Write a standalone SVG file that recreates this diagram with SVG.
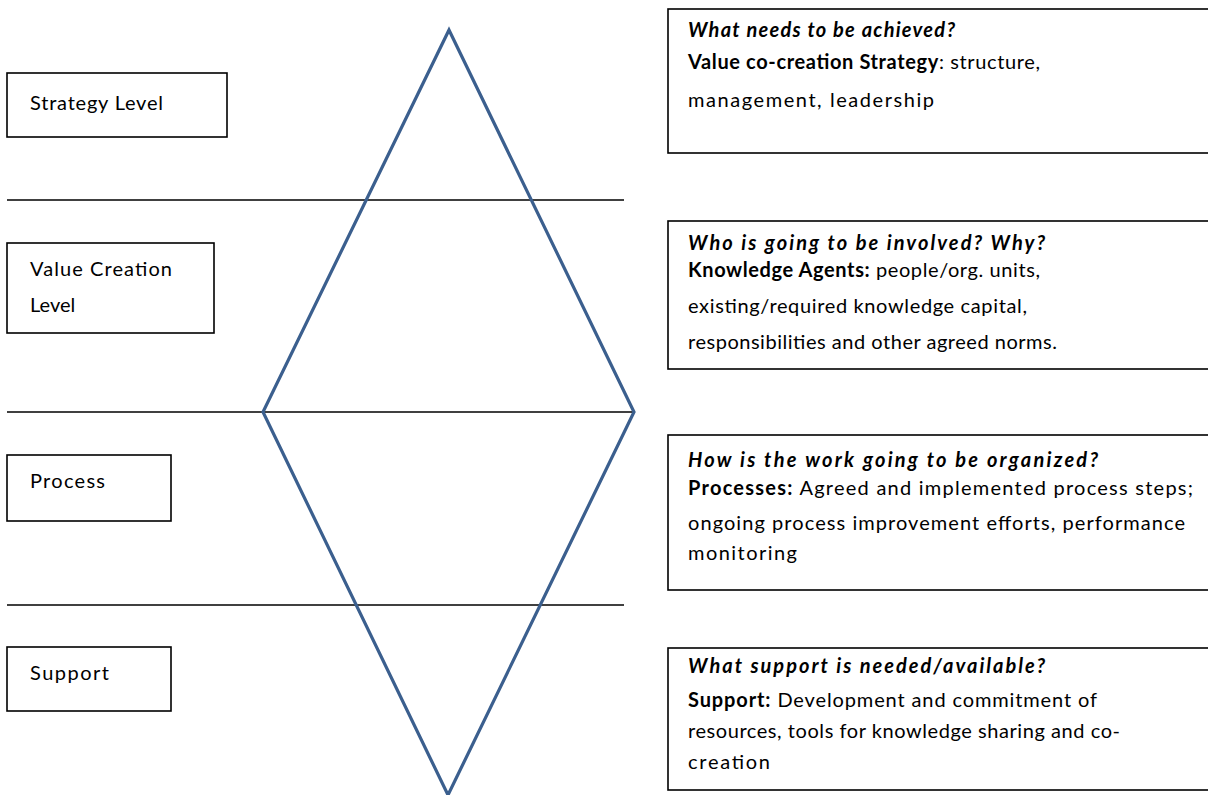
<svg xmlns="http://www.w3.org/2000/svg" width="1208" height="795" viewBox="0 0 1208 795">
<style>
.box{fill:#fff;stroke:#000;stroke-width:1.6}
.sep{stroke:#000;stroke-width:1.4}
.dia{fill:none;stroke:#3b5f8e;stroke-width:3.2;stroke-linejoin:miter}
text{font-family:Lato,"Open Sans","Liberation Sans",sans-serif;font-size:20px;fill:#000}
.lbl{font-size:20px}
.q{font-weight:bold;font-style:italic}
.b{font-weight:bold}
</style>
<rect width="1208" height="795" fill="#fff"/>
<g id="separators">
<line class="sep" x1="7" y1="200" x2="624" y2="200"/>
<line class="sep" x1="7" y1="412" x2="634" y2="412"/>
<line class="sep" x1="7" y1="605" x2="624" y2="605"/>
</g>
<g id="connectors">
<path class="dia" d="M449,30 L634,412 L448,795 L263,412 Z"/>
</g>
<g id="strategy-level">
<rect class="box" x="7" y="73" width="220" height="64"/>
<text class="lbl" x="30" y="110" textLength="133" lengthAdjust="spacing">Strategy Level</text>
</g>
<g id="value-creation-level">
<rect class="box" x="7" y="243" width="207" height="90"/>
<text class="lbl" x="30" y="276" textLength="142" lengthAdjust="spacing">Value Creation</text>
<text class="lbl" x="30" y="312">Level</text>
</g>
<g id="process-level">
<rect class="box" x="7" y="455" width="164" height="66"/>
<text class="lbl" x="30" y="488" textLength="75" lengthAdjust="spacing">Process</text>
</g>
<g id="support-level">
<rect class="box" x="7" y="647" width="164" height="64"/>
<text class="lbl" x="30" y="680" textLength="79" lengthAdjust="spacing">Support</text>
</g>
<g id="strategy-desc">
<rect class="box" x="668" y="9" width="560" height="144"/>
<text class="q" x="688" y="37" textLength="267" lengthAdjust="spacing">What needs to be achieved?</text>
<text x="688" y="69" textLength="352" lengthAdjust="spacing"><tspan class="b">Value co-creation Strategy</tspan>: structure,</text>
<text x="688" y="107" textLength="246" lengthAdjust="spacing">management, leadership</text>
</g>
<g id="value-desc">
<rect class="box" x="668" y="221" width="560" height="148"/>
<text class="q" x="688" y="250" textLength="357" lengthAdjust="spacing">Who is going to be involved? Why?</text>
<text x="688" y="277" textLength="352" lengthAdjust="spacing"><tspan class="b">Knowledge Agents:</tspan> people/org. units,</text>
<text x="688" y="313" textLength="339" lengthAdjust="spacing">existing/required knowledge capital,</text>
<text x="688" y="349" textLength="369" lengthAdjust="spacing">responsibilities and other agreed norms.</text>
</g>
<g id="process-desc">
<rect class="box" x="668" y="435" width="560" height="155"/>
<text class="q" x="688" y="467" textLength="410" lengthAdjust="spacing">How is the work going to be organized?</text>
<text x="688" y="495" textLength="505" lengthAdjust="spacing"><tspan class="b">Processes:</tspan> Agreed and implemented process steps;</text>
<text x="688" y="530" textLength="497" lengthAdjust="spacing">ongoing process improvement efforts, performance</text>
<text x="688" y="560" textLength="109" lengthAdjust="spacing">monitoring</text>
</g>
<g id="support-desc">
<rect class="box" x="668" y="648" width="560" height="142"/>
<text class="q" x="688" y="673" textLength="357" lengthAdjust="spacing">What support is needed/available?</text>
<text x="688" y="707" textLength="409" lengthAdjust="spacing"><tspan class="b">Support:</tspan> Development and commitment of</text>
<text x="688" y="738" textLength="432" lengthAdjust="spacing">resources, tools for knowledge sharing and co-</text>
<text x="688" y="769" textLength="82" lengthAdjust="spacing">creation</text>
</g>
</svg>
